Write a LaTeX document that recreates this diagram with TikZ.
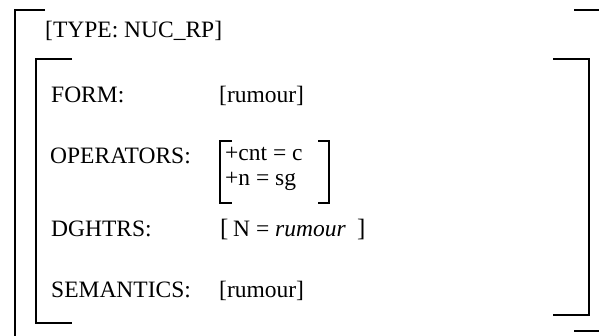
\documentclass[tikz,border=0pt]{standalone}
\usepackage{fontspec}
\setmainfont{Liberation Serif}
\usetikzlibrary{positioning}
\tikzset{
    fslabel/.style={anchor=base west, inner sep=0pt, font=\fontsize{23.5}{28}\selectfont},
    fsvalue/.style={anchor=base west, inner sep=0pt, font=\fontsize{23.5}{28}\selectfont},
    fsbrace/.style={anchor=base west, inner sep=0pt, font=\fontsize{25}{30}\selectfont},
    outerbrk/.style={line width=2.4pt, line cap=butt, line join=miter},
    innerbrk/.style={line width=2.2pt, line cap=butt, line join=miter},
    smallbrk/.style={line width=1.8pt, line cap=butt, line join=miter}
}
\begin{document}
\begin{tikzpicture}[x=1pt, y=-1pt]
    \useasboundingbox (0,0) rectangle (599,335);

    % Outer matrix
    \draw[outerbrk] (45,10) -- (15,10) -- (15,336);
    \draw[outerbrk] (574,10) -- (600,10);
    \draw[outerbrk] (574,331) -- (600,331);
    \node[fslabel] (type) at (45,37) {[TYPE: NUC\_RP]};

    % Inner matrix
    \draw[innerbrk] (72,59) -- (36,59) -- (36,323) -- (72,323);
    \draw[innerbrk] (553,59) -- (589,59) -- (589,315) -- (553,315);

    % Features
    \node[fslabel] (form) at (51,102) {FORM:};
    \node[fsvalue] (formval) at (219,102) {[rumour]};

    \node[fslabel] (ops) at (50,163) {OPERATORS:};
    \node[fsvalue] (cnt) at (225,160) {+cnt = c};
    \node[fsvalue] (num) at (225,185) {+n = sg};
    \draw[smallbrk] (232,141) -- (220,141) -- (220,203) -- (232,203);
    \draw[smallbrk] (318,141) -- (329,141) -- (329,203) -- (318,203);

    \node[fslabel] (dtrs) at (51,236) {DGHTRS:};
    \node[fsbrace] (dlb) at (220,236) {[};
    \node[fsvalue] (dval) at (233,236) {N = \textit{rumour}};
    \node[fsbrace] (drb) at (357,236) {]};

    \node[fslabel] (sem) at (51,297) {SEMANTICS:};
    \node[fsvalue] (semval) at (219,297) {[rumour]};
\end{tikzpicture}
\end{document}
